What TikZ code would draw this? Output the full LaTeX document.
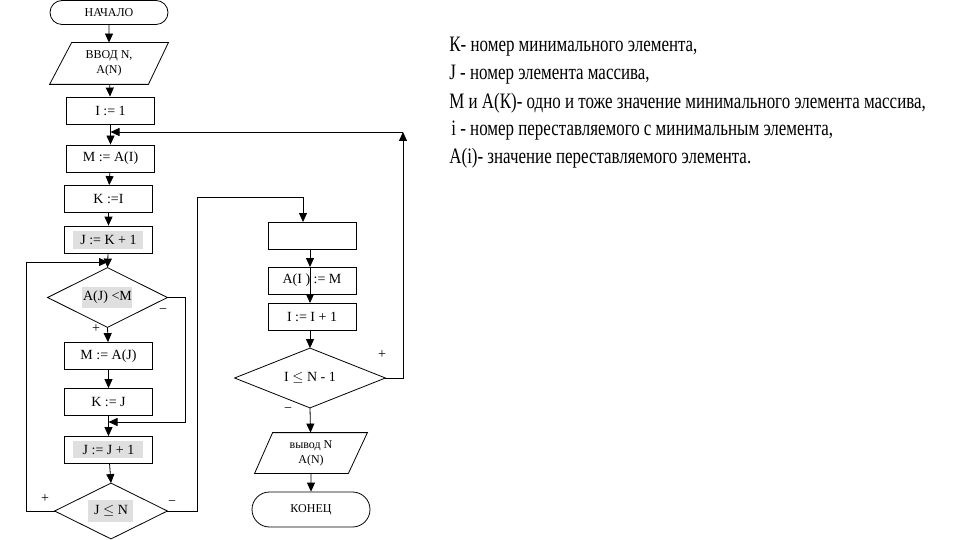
\documentclass[tikz,border=0pt]{standalone}
\usepackage{fontspec}
\setmainfont{Liberation Serif}
\newfontfamily\condfont[FakeStretch=0.77]{Liberation Serif}
\usetikzlibrary{arrows.meta,shapes.misc,calc}
\begin{document}
\begin{tikzpicture}[x=1pt,y=-1pt,
  line width=0.8pt,
  box/.style={draw, rectangle, minimum width=88pt, minimum height=27pt, inner sep=0pt, font=\fontsize{14}{15}\selectfont},
  term/.style={draw, rounded rectangle, minimum width=118pt, minimum height=24pt, inner sep=0pt, font=\fontsize{12}{13}\selectfont},
  shapebox/.style={rectangle, inner sep=0pt, font=\fontsize{12}{15}\selectfont, align=center},
  diabox/.style={rectangle, inner sep=0pt, font=\fontsize{14}{15}\selectfont},
  hl/.style={fill=gray!25, inner sep=0pt},
  sign/.style={inner sep=0pt, font=\fontsize{14}{15}\selectfont},
  note/.style={anchor=west, inner sep=0pt, font=\condfont\fontsize{22}{24}\selectfont},
  arr/.style={-{Triangle[length=9pt,width=8pt]}}
]
\useasboundingbox (0,0) rectangle (960,540);

% ---------- left column ----------
\node[term] (start) at (109,12.5) {НАЧАЛО};
\node[shapebox, minimum width=118pt, minimum height=41pt] (in) at (109,63.5) {ВВОД N,\\A(N)};
\draw ($(in.north west)+(22,0)$) -- (in.north east) -- ($(in.south east)+(-20,0)$) -- (in.south west) -- cycle;
\node[box] (i1) at (110.5,110.5) {I := 1};
\node[box] (ma) at (110.5,158.5) {M := A(I)};
\node[box] (ki) at (108.5,199) {K :=I};
\node[hl, minimum width=70pt, minimum height=18pt] (jkbg) at (108,240) {};
\node[box] (jk) at (108.5,239.5) {J := K + 1};

\node[hl, minimum width=50pt, minimum height=21pt] (d1bg) at (107,297.5) {};
\node[diabox, minimum width=119pt, minimum height=59pt] (d1) at (107.5,297.5) {A(J) <M};
\draw (d1.north) -- (d1.east) -- (d1.south) -- (d1.west) -- cycle;

\node[box] (mj) at (108.5,356) {M := A(J)};
\node[box] (kj) at (108.5,402) {K := J};
\node[hl, minimum width=70pt, minimum height=17pt] (jjbg) at (108,449.5) {};
\node[box] (jj) at (108.5,450) {J := J + 1};

\node[hl, minimum width=45pt, minimum height=22pt] (d2bg) at (110.5,511) {};
\node[diabox, minimum width=112pt, minimum height=55pt] (d2) at (111,511) {J $\leq$ N};
\draw (d2.north) -- (d2.east) -- (d2.south) -- (d2.west) -- cycle;

% ---------- right column ----------
\node[box] (e) at (312,235.5) {};
\node[box] (aim) at (312,280.5) {A(I ) := M};
\node[box] (iip) at (312,316.5) {I := I + 1};
\node[diabox, minimum width=150pt, minimum height=59pt] (d3) at (310,378) {I $\leq$ N - 1};
\draw (d3.north) -- (d3.east) -- (d3.south) -- (d3.west) -- cycle;
\node[shapebox, minimum width=112pt, minimum height=40pt] (out) at (311,453) {вывод N\\A(N)};
\draw ($(out.north west)+(18,0)$) -- (out.north east) -- ($(out.south east)+(-19,0)$) -- (out.south west) -- cycle;
\node[term, minimum height=35pt] (end) at (311,509.5) {КОНЕЦ};

% ---------- signs ----------
\node[sign] (s1) at (96,329) {+};
\node[sign] (s2) at (163,311) {−};
\node[sign] (s3) at (45,499) {+};
\node[sign] (s4) at (172,503) {−};
\node[sign] (s5) at (382,355) {+};
\node[sign] (s6) at (288,410) {−};

% ---------- connectors ----------
\coordinate (c1) at (110.5,132);
\coordinate (c1r) at (403,132);
\coordinate (c2) at (108,262);
\coordinate (c3) at (108.5,422);
\coordinate (c4) at (303,197);
\coordinate (c5) at (303,222);
\coordinate (a1) at (310,249);
\coordinate (a2) at (310,267);
\coordinate (a3) at (310,303);
\coordinate (a4) at (310,330);

\draw[arr] (start) -- (in);
\draw[arr] (in) -- (i1);
\draw[arr] (i1) -- (ma);
\draw[arr] (ma) -- (ki);
\draw[arr] (ki) -- (jk);
\draw[arr] (jk) -- (d1.north);
\draw[arr] (d1.south) -- (mj);
\draw[arr] (mj) -- (kj);
\draw[arr] (kj) -- (jj);
\draw[arr] (jj) -- (d2.north);
% inner loop back (+)
\draw[arr] (d2.west) -- (26,511) |- (c2);
% minus branch of A(J)<M
\draw[arr] (d1.east) -- (185,297.5) |- (c3);
% exit of J<=N (-)
\draw (d2.east) -- (197,511) |- (c4);
\draw[arr] (c4) -- (c5);
\draw[arr] (a1) -- (a2);
\draw[arr] (a2) -- (a3);
\draw[arr] (a4) -- (d3.north);
\draw[arr] (d3.south) -- (out);
\draw[arr] (out) -- (end);
% outer loop back (+)
\draw[arr] (d3.east) -- (403,378) -- (c1r);
\draw[arr] (c1r) -- (c1);

% ---------- notes ----------
\node[note] (n1) at (449,47) {К- номер минимального элемента,};
\node[note] (n2) at (449,75) {J - номер элемента массива,};
\node[note] (n3) at (449,103) {М и А(К)- одно и тоже значение минимального элемента массива,};
\node[note] (n4) at (451,131) { i - номер переставляемого с минимальным элемента,};
\node[note] (n5) at (449,158) {А(i)- значение переставляемого элемента.};
\end{tikzpicture}
\end{document}
